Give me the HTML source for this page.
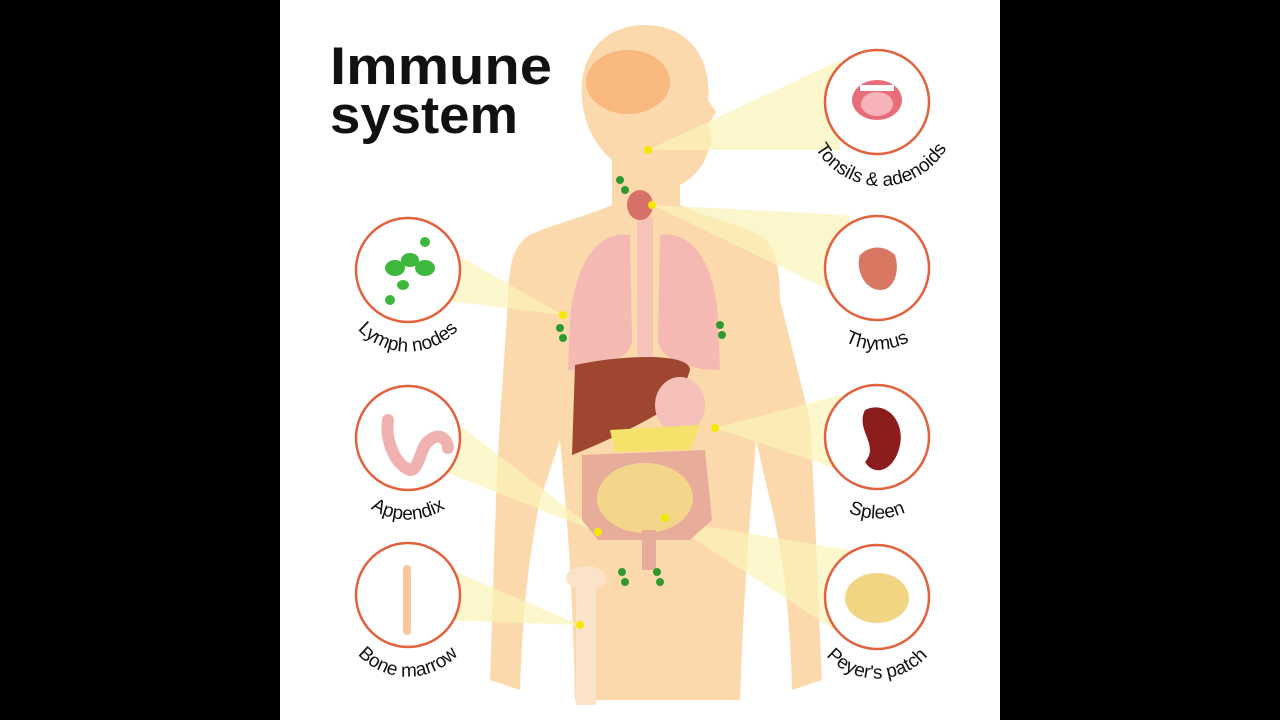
<!DOCTYPE html>
<html><head><meta charset="utf-8"><style>
html,body{margin:0;padding:0;background:#000;}
svg{display:block}
text{font-family:"Liberation Sans",sans-serif;}
</style></head><body>
<svg width="1280" height="720" viewBox="0 0 1280 720" xmlns="http://www.w3.org/2000/svg">
<rect width="1280" height="720" fill="#000"/>
<rect x="280" y="0" width="720" height="720" fill="#fff"/>
<path fill="#fcd9ad" d="M645 25 C600 25 578 60 582 100 C585 130 600 150 612 160 L612 205 C590 215 550 225 530 235 C512 245 508 270 508 300 L500 420 C495 500 493 600 490 680 L520 690 C522 620 528 560 540 500 L560 440 C565 500 572 560 575 700 L740 700 C745 560 752 500 756 440 L770 500 C785 560 790 620 792 690 L822 680 C818 600 815 500 810 420 L780 300 C780 270 776 245 760 235 C740 225 700 215 680 205 L680 185 C690 180 700 170 705 160 L712 140 L708 125 L716 112 L708 100 C712 60 690 25 645 25 Z"/>
<g fill="#fbf3b8" opacity="0.7">
<polygon points="648,150 840,60 840,150"/>
<polygon points="652,205 850,215 850,300"/>
<polygon points="563,315 440,245 440,300"/>
<polygon points="715,428 840,395 840,470"/>
<polygon points="598,532 440,410 440,470"/>
<polygon points="665,520 850,550 850,640"/>
<polygon points="580,625 440,565 440,620"/>
</g>
<ellipse cx="628" cy="82" rx="42" ry="32" fill="#f8b87e"/>
<rect x="637" y="215" width="16" height="150" rx="6" fill="#f6c4b8"/>
<ellipse cx="640" cy="205" rx="13" ry="15" fill="#d8706a"/>
<path fill="#f4b9b2" d="M630 235 C600 230 575 260 570 320 L568 370 C600 370 630 360 632 340 Z"/>
<path fill="#f4b9b2" d="M660 235 C690 230 715 260 718 320 L720 370 C690 370 660 360 658 340 Z"/>
<path fill="#9e4630" d="M575 365 C620 355 690 352 690 370 L680 400 C650 420 610 440 572 455 Z"/>
<ellipse cx="680" cy="405" rx="25" ry="28" fill="#f4c0b8"/>
<path fill="#f5e26a" d="M610 430 L700 425 L690 450 L615 452 Z"/>
<path fill="#e7ac9a" d="M582 455 L705 450 L712 520 L690 540 L598 540 L582 520 Z"/>
<ellipse cx="645" cy="498" rx="48" ry="35" fill="#f3d68a"/>
<rect x="642" y="530" width="14" height="40" fill="#e7ac9a"/>
<rect x="576" y="575" width="20" height="130" fill="#fbe3c8"/>
<ellipse cx="586" cy="578" rx="20" ry="12" fill="#fbe3c8"/>
<g fill="#2e9a2e">
<circle cx="620" cy="180" r="4"/><circle cx="625" cy="190" r="4"/>
<circle cx="560" cy="328" r="4"/><circle cx="563" cy="338" r="4"/>
<circle cx="720" cy="325" r="4"/><circle cx="722" cy="335" r="4"/>
<circle cx="622" cy="572" r="4"/><circle cx="625" cy="582" r="4"/>
<circle cx="657" cy="572" r="4"/><circle cx="660" cy="582" r="4"/>
</g>
<g fill="#f5e800">
<circle cx="648" cy="150" r="4"/><circle cx="652" cy="205" r="4"/><circle cx="563" cy="315" r="4"/>
<circle cx="715" cy="428" r="4"/><circle cx="598" cy="532" r="4"/><circle cx="665" cy="518" r="4"/><circle cx="580" cy="625" r="4"/>
</g>
<text x="330" y="84" font-size="53" font-weight="bold" fill="#111" textLength="222" lengthAdjust="spacingAndGlyphs">Immune</text>
<text x="330" y="133" font-size="53" font-weight="bold" fill="#111" textLength="188" lengthAdjust="spacingAndGlyphs">system</text>
<g fill="#fff" stroke="#e2623e" stroke-width="2.5">
<circle cx="408" cy="270" r="52"/><circle cx="408" cy="438" r="52"/><circle cx="408" cy="595" r="52"/>
<circle cx="877" cy="102" r="52"/><circle cx="877" cy="268" r="52"/><circle cx="877" cy="437" r="52"/><circle cx="877" cy="597" r="52"/>
</g>
<g fill="#3cb93c"><ellipse cx="395" cy="268" rx="10" ry="8"/><ellipse cx="425" cy="268" rx="10" ry="8"/><ellipse cx="410" cy="260" rx="9" ry="7"/><ellipse cx="403" cy="285" rx="6" ry="5"/><circle cx="425" cy="242" r="5"/><circle cx="390" cy="300" r="5"/></g>
<path d="M388 420 C385 440 395 465 410 470 C420 470 420 445 430 440 C440 432 448 440 448 448" fill="none" stroke="#f0b2b0" stroke-width="12" stroke-linecap="round"/>
<rect x="403" y="565" width="8" height="70" rx="4" fill="#f9c79a"/>
<ellipse cx="877" cy="100" rx="25" ry="20" fill="#e86d7a"/><ellipse cx="877" cy="104" rx="16" ry="12" fill="#f6b3b8"/><rect x="860" y="85" width="34" height="6" fill="#fff"/>
<path d="M860 255 C870 245 885 245 895 255 C900 270 895 290 880 290 C865 290 855 270 860 255Z" fill="#d87863"/>
<path d="M865 410 C885 400 905 420 900 445 C895 470 875 478 865 462 C880 445 855 430 865 410Z" fill="#8c1d1d"/>
<ellipse cx="877" cy="598" rx="32" ry="25" fill="#f2d583"/>
<defs>
<path id="aL1" d="M342 300 A68 68 0 0 0 474 300"/>
<path id="aL2" d="M342 468 A68 68 0 0 0 474 468"/>
<path id="aL3" d="M342 625 A68 68 0 0 0 474 625"/>
<path id="aR1" d="M805 110 A72 72 0 0 0 957 110"/>
<path id="aR2" d="M811 298 A68 68 0 0 0 943 298"/>
<path id="aR3" d="M811 467 A68 68 0 0 0 943 467"/>
<path id="aR4" d="M811 627 A68 68 0 0 0 943 627"/>
</defs>
<g font-size="19" fill="#111">
<text><textPath href="#aL1" startOffset="50%" text-anchor="middle">Lymph nodes</textPath></text>
<text><textPath href="#aL2" startOffset="50%" text-anchor="middle">Appendix</textPath></text>
<text><textPath href="#aL3" startOffset="50%" text-anchor="middle">Bone marrow</textPath></text>
<text><textPath href="#aR1" startOffset="50%" text-anchor="middle">Tonsils &amp; adenoids</textPath></text>
<text><textPath href="#aR2" startOffset="50%" text-anchor="middle">Thymus</textPath></text>
<text><textPath href="#aR3" startOffset="50%" text-anchor="middle">Spleen</textPath></text>
<text><textPath href="#aR4" startOffset="50%" text-anchor="middle">Peyer's patch</textPath></text>
</g>
</svg>
</body></html>
